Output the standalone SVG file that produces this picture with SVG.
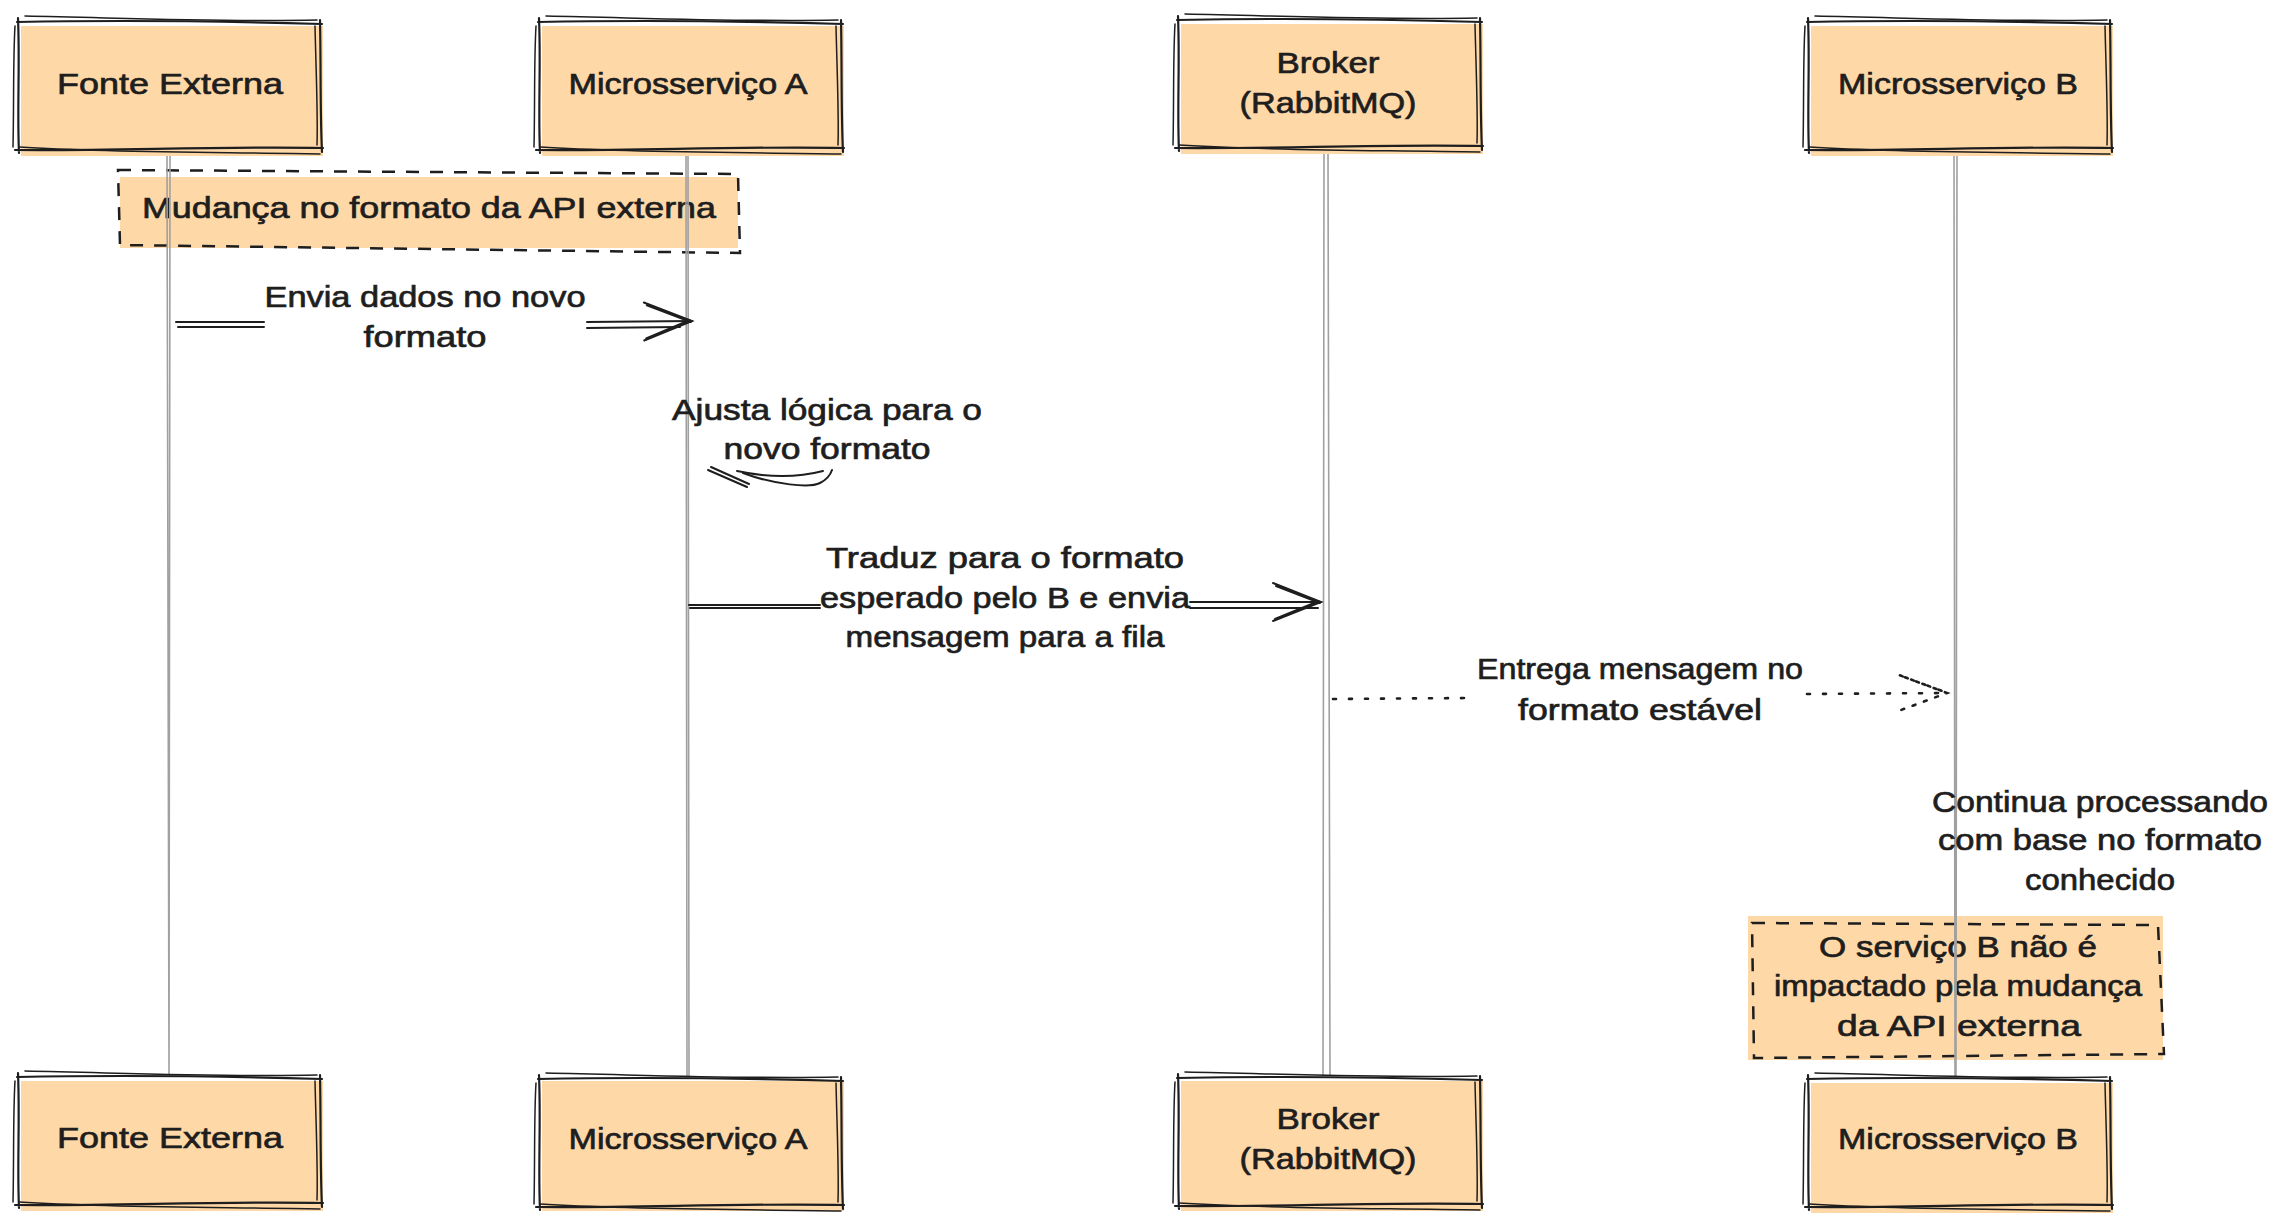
<svg xmlns="http://www.w3.org/2000/svg" xmlns:xlink="http://www.w3.org/1999/xlink" width="2289" height="1226" viewBox="0 0 2289 1226">
<style>
.fill{fill:#ffd8a8;stroke:none}
.sk{fill:none;stroke:#1e1e1e;stroke-width:2.2;stroke-linecap:round}
.sk2{fill:none;stroke:#1e1e1e;stroke-width:1.5;stroke-linecap:round}
.dash{fill:none;stroke:#1e1e1e;stroke-width:2.5;stroke-dasharray:13 11}
.life{fill:none;stroke:#a0a0a0;stroke-width:1.6}
.msg{fill:none;stroke:#1e1e1e;stroke-width:2;stroke-linecap:round}
.dot{fill:none;stroke:#1e1e1e;stroke-width:2.6;stroke-linecap:round;stroke-dasharray:3 13}
.t{font-family:"Liberation Sans",Arial,sans-serif;font-size:30px;fill:#1e1e1e;stroke:#1e1e1e;stroke-width:0.7;text-anchor:middle}
</style>
<defs>
<g id="boxOutline">
<path class="sk" d="M0,2 C100,0 200,1 305,4 M303,0 C304,45 303,90 305,132 M306,128 C200,126 100,131 -2,130 M2,133 C0,90 3,45 1,-2"/>
<path class="sk2" d="M8,-4 C110,-2 200,2 300,0 M298,6 C299,50 301,95 300,125 M303,134 C200,132 100,133 2,127 M-4,127 C-3,85 -4,40 -2,6"/>
</g>
<marker id="arrowOpen" markerUnits="userSpaceOnUse" markerWidth="60" markerHeight="50" viewBox="0 0 60 50" refX="50" refY="20" orient="auto" overflow="visible">
<path d="M2,1 L50,20 L2,39 M5,4 L49,21 M4,37 L48,19" fill="none" stroke="#1e1e1e" stroke-width="2" stroke-linecap="round"/>
</marker>
<marker id="arrowDot" markerUnits="userSpaceOnUse" markerWidth="60" markerHeight="50" viewBox="0 0 60 50" refX="50" refY="20" orient="auto" overflow="visible">
<path d="M3,2 L50,20 L3,37 M8,4 L48,19" fill="none" stroke="#1e1e1e" stroke-width="2.6" stroke-linecap="round" stroke-dasharray="3 9"/>
</marker>
</defs>
<rect width="2289" height="1226" fill="#ffffff"/>

<g id="note-mudanca">
<rect class="fill" x="120" y="177" width="618" height="71"/>
<path class="dash" d="M118,170 L738,174 L740,253 L120,245 Z"/>
<text class="t" x="429" y="218" textLength="574" lengthAdjust="spacingAndGlyphs">Mudança no formato da API externa</text>
</g>

<g id="note-servicoB">
<rect class="fill" x="1748" y="916" width="415" height="144"/>
<path class="dash" d="M1752,923 L2158,925 L2164,1054 L1754,1058 Z"/>
<text class="t" x="1958" y="957" textLength="278" lengthAdjust="spacingAndGlyphs">O serviço B não é</text>
<text class="t" x="1958" y="996" textLength="368" lengthAdjust="spacingAndGlyphs">impactado pela mudança</text>
<text class="t" x="1959" y="1036" textLength="244" lengthAdjust="spacingAndGlyphs">da API externa</text>
</g>

<g id="lifelines">
<path class="life" d="M167,151 L169,1075 M170,150 L169,1074"/>
<path class="life" d="M686,151 L687,1077 M688,150 L689,1076"/>
<path class="life" d="M1324,151 L1323,1076 M1328,150 L1330,1075"/>
<path class="life" d="M1954,151 L1955,1077 M1957,150 L1956,1076"/>
</g>

<g id="participant-fonte-top">
<rect class="fill" x="21" y="26" width="302" height="130"/>
<use xlink:href="#boxOutline" transform="translate(17,20)"/>
<text class="t" x="170" y="94" textLength="226" lengthAdjust="spacingAndGlyphs">Fonte Externa</text>
</g>
<g id="participant-a-top">
<rect class="fill" x="542" y="26" width="302" height="130"/>
<use xlink:href="#boxOutline" transform="translate(538,20)"/>
<text class="t" x="688" y="94" textLength="239" lengthAdjust="spacingAndGlyphs">Microsserviço A</text>
</g>
<g id="participant-broker-top">
<rect class="fill" x="1181" y="24" width="302" height="130"/>
<use xlink:href="#boxOutline" transform="translate(1177,18)"/>
<text class="t" x="1328" y="73" textLength="103" lengthAdjust="spacingAndGlyphs">Broker</text>
<text class="t" x="1328" y="113" textLength="177" lengthAdjust="spacingAndGlyphs">(RabbitMQ)</text>
</g>
<g id="participant-b-top">
<rect class="fill" x="1811" y="26" width="302" height="130"/>
<use xlink:href="#boxOutline" transform="translate(1807,20)"/>
<text class="t" x="1958" y="94" textLength="240" lengthAdjust="spacingAndGlyphs">Microsserviço B</text>
</g>

<g id="participant-fonte-bottom">
<rect class="fill" x="21" y="1081" width="302" height="130"/>
<use xlink:href="#boxOutline" transform="translate(17,1075)"/>
<text class="t" x="170" y="1148" textLength="226" lengthAdjust="spacingAndGlyphs">Fonte Externa</text>
</g>
<g id="participant-a-bottom">
<rect class="fill" x="542" y="1081" width="302" height="130"/>
<use xlink:href="#boxOutline" transform="translate(538,1077)"/>
<text class="t" x="688" y="1149" textLength="239" lengthAdjust="spacingAndGlyphs">Microsserviço A</text>
</g>
<g id="participant-broker-bottom">
<rect class="fill" x="1181" y="1081" width="302" height="130"/>
<use xlink:href="#boxOutline" transform="translate(1177,1076)"/>
<text class="t" x="1328" y="1129" textLength="103" lengthAdjust="spacingAndGlyphs">Broker</text>
<text class="t" x="1328" y="1169" textLength="177" lengthAdjust="spacingAndGlyphs">(RabbitMQ)</text>
</g>
<g id="participant-b-bottom">
<rect class="fill" x="1811" y="1083" width="302" height="130"/>
<use xlink:href="#boxOutline" transform="translate(1807,1077)"/>
<text class="t" x="1958" y="1149" textLength="240" lengthAdjust="spacingAndGlyphs">Microsserviço B</text>
</g>

<g id="connectors">
<path class="msg" d="M176,322 L264,322 M178,327 L264,327"/>
<path class="msg" d="M587,322 L692,321" marker-end="url(#arrowOpen)"/>
<path class="msg" d="M587,328 L680,327"/>
<text class="t" x="425" y="307" textLength="321" lengthAdjust="spacingAndGlyphs">Envia dados no novo</text>
<text class="t" x="425" y="347" textLength="123" lengthAdjust="spacingAndGlyphs">formato</text>

<path class="msg" d="M737,471 C770,478 800,477 823,471"/>
<path class="msg" d="M743,473 C775,485 810,488 820,483 C826,480 830,476 832,470"/>
<path class="msg" d="M708,470 L747,487 M711,467 L749,484"/>
<text class="t" x="827" y="420" textLength="310" lengthAdjust="spacingAndGlyphs">Ajusta lógica para o</text>
<text class="t" x="827" y="459" textLength="207" lengthAdjust="spacingAndGlyphs">novo formato</text>

<path class="msg" d="M689,605 L820,605 M690,608 L820,608" stroke-width="2.4"/>
<path class="msg" d="M1190,602 L1321,602" marker-end="url(#arrowOpen)"/>
<path class="msg" d="M1190,608 L1318,608"/>
<text class="t" x="1005" y="568" textLength="358" lengthAdjust="spacingAndGlyphs">Traduz para o formato</text>
<text class="t" x="1005" y="608" textLength="370" lengthAdjust="spacingAndGlyphs">esperado pelo B e envia</text>
<text class="t" x="1005" y="647" textLength="319" lengthAdjust="spacingAndGlyphs">mensagem para a fila</text>

<path class="dot" d="M1333,699 L1472,698"/>
<path class="dot" d="M1807,694 L1947,693" marker-end="url(#arrowDot)"/>
<text class="t" x="1640" y="679" textLength="326" lengthAdjust="spacingAndGlyphs">Entrega mensagem no</text>
<text class="t" x="1640" y="720" textLength="244" lengthAdjust="spacingAndGlyphs">formato estável</text>

<text class="t" x="2100" y="812" textLength="336" lengthAdjust="spacingAndGlyphs">Continua processando</text>
<text class="t" x="2100" y="850" textLength="324" lengthAdjust="spacingAndGlyphs">com base no formato</text>
<text class="t" x="2100" y="890" textLength="150" lengthAdjust="spacingAndGlyphs">conhecido</text>
</g>
</svg>
